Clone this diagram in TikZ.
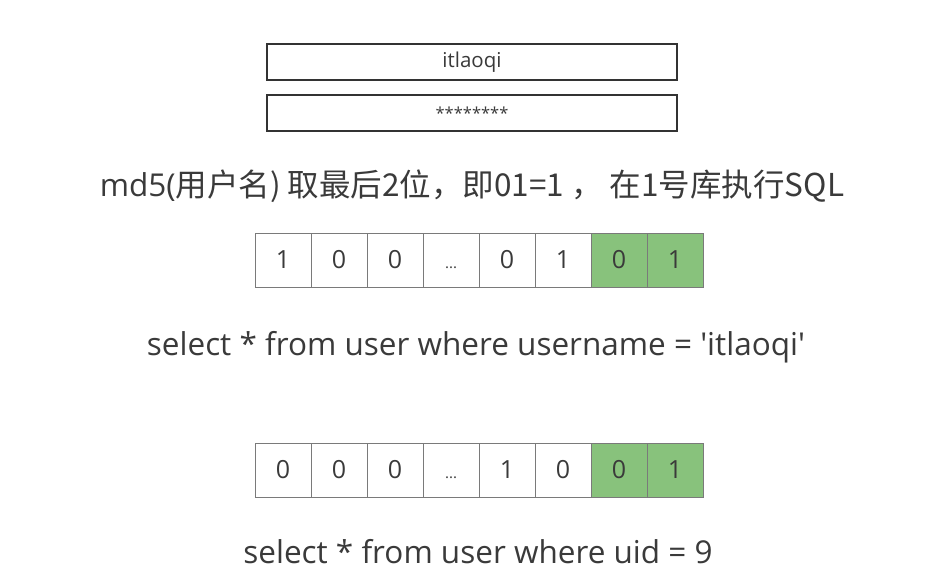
\documentclass[tikz,border=0pt]{standalone}
\usepackage{fontspec}
\setmainfont{Open Sans}
\newfontfamily\cjk{Noto Sans CJK SC}
\definecolor{txt}{HTML}{3A3A3A}
\definecolor{cellline}{HTML}{7A7A7A}
\definecolor{boxline}{HTML}{333333}
\definecolor{grn}{HTML}{88C27C}
\newcommand{\dts}{\vphantom{0}{\fontsize{15}{15}\selectfont...}}
\begin{document}
\begin{tikzpicture}[x=1pt,y=-1pt,
  inbox/.style={draw=boxline,line width=2.6pt,minimum width=410pt,minimum height=36pt,inner sep=0pt,text=txt},
  cell/.style={draw=cellline,line width=1pt,minimum width=56pt,minimum height=54pt,inner sep=0pt,text=txt,font=\fontsize{25}{25}\selectfont},
  gcell/.style={cell,fill=grn},
  big/.style={text=txt,inner sep=0pt,font=\fontsize{31.5}{31.5}\selectfont}]
\useasboundingbox (0,0) rectangle (928,586);
\node[inbox,font=\fontsize{20.5}{20.5}\selectfont] (user) at (472,62) {itlaoqi};
\node[inbox,font=\fontsize{16.5}{16.5}\selectfont] (pwd) at (472,113) {********};
\node[big] (t1) at (472,186) {md5(\cjk{用户名}) \cjk{取最后}2\cjk{位，即}01=1 \cjk{，} \cjk{在}1\cjk{号库执行}SQL};
\node[cell] (a1) at (283,260) {1};
\node[cell] (a2) at (339,260) {0};
\node[cell] (a3) at (395,260) {0};
\node[cell] (a4) at (451,260) {\dts};
\node[cell] (a5) at (507,260) {0};
\node[cell] (a6) at (563,260) {1};
\node[gcell] (a7) at (619,260) {0};
\node[gcell] (a8) at (675,260) {1};
\node[big] (t2) at (476,347) {select * from user where username = \textquotesingle itlaoqi\textquotesingle};
\node[cell] (b1) at (283,470) {0};
\node[cell] (b2) at (339,470) {0};
\node[cell] (b3) at (395,470) {0};
\node[cell] (b4) at (451,470) {\dts};
\node[cell] (b5) at (507,470) {1};
\node[cell] (b6) at (563,470) {0};
\node[gcell] (b7) at (619,470) {0};
\node[gcell] (b8) at (675,470) {1};
\node[big] (t3) at (478,552) {select * from user where uid = 9};
\end{tikzpicture}
\end{document}
